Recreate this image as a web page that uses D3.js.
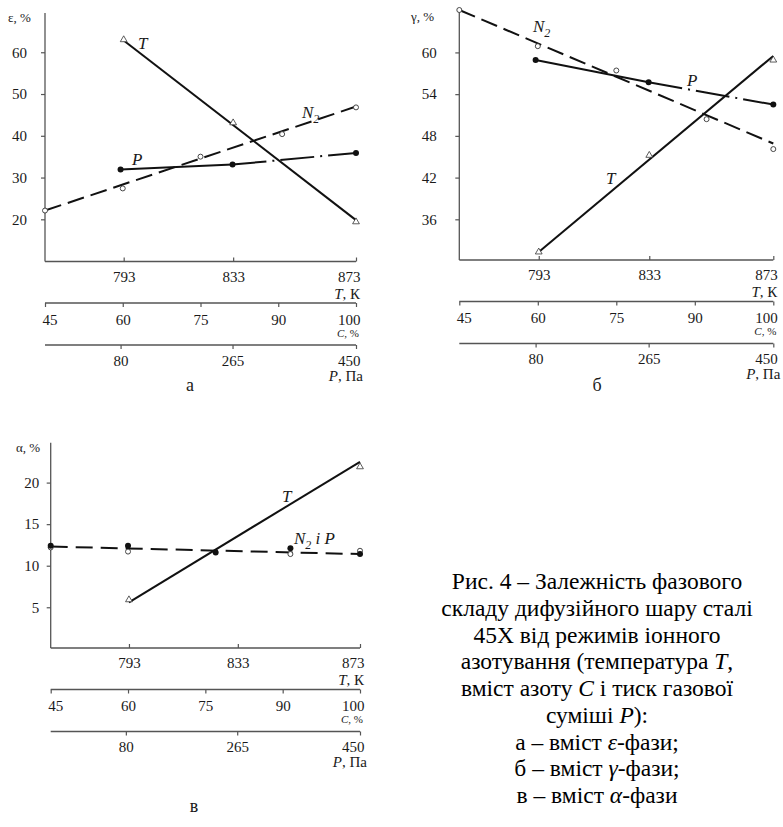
<!DOCTYPE html>
<html>
<head>
<meta charset="utf-8">
<script src="https://cdn.jsdelivr.net/npm/d3@7"></script>
<style>
  body { margin: 0; background: #fff; }
</style>
</head>
<body>
<svg id="chart" width="783" height="827"></svg>
<script>
// shared scales of the three x axes
const tempTicks = [793, 833, 873];
const nitrogenTicks = [45, 60, 75, 90, 100];
const pressureTicks = [80, 265, 450];

// а – ε-phase
const epsTicks = [20, 30, 40, 50, 60];
const epsTemp = [63, 43.1, 19.4];            // at tempTicks
const epsTempLine = [62.8, 19.8];            // straight line 793 -> 873
const epsN2C = [45, 60, 75, 90.5, 100];
const epsN2 = [22.1, 27.4, 35, 40.4, 46.8];
const epsN2Line = [22.1, 47];                // 45 -> 100
const epsP = [31.9, 33.1, 35.9];             // at pressureTicks

// б – γ-phase
const gammaTicks = [36, 42, 48, 54, 60];
const gammaTemp = [31.3, 45.2, 58.9];
const gammaTempLine = [31.3, 59.5];
const gammaN2C = [45, 60, 75, 91.5, 100];
const gammaN2 = [66.1, 60.9, 57.4, 50.4, 46.1];
const gammaN2Line = [66.1, 46.9];
const gammaP = [58.9, 55.7, 52.5];

// в – α-phase (N2 and P share one line)
const alphaTicks = [5, 10, 15, 20];
const alphaTempT = [793, 873];
const alphaTemp = [5.9, 21.9];
const alphaTempLine = [5.6, 22.5];
const alphaN2C = [45, 60, 91, 100];
const alphaN2 = [12.2, 11.7, 11.4, 11.8];
const alphaPC = [45, 60, 77, 91, 100];       // filled points, placed on the C scale
const alphaP = [12.4, 12.4, 11.6, 12.1, 11.4];
const alphaLine = [12.3, 11.4];

const captionLines = [
  [['Рис. 4 – Залежність фазового', false]],
  [['складу дифузійного шару сталі', false]],
  [['45Х від режимів іонного', false]],
  [['азотування (температура ', false], ['T', true], [',', false]],
  [['вміст азоту ', false], ['C', true], [' і тиск газової', false]],
  [['суміші ', false], ['P', true], ['):', false]],
  [['а – вміст ', false], ['ε', true], ['-фази;', false]],
  [['б – вміст ', false], ['γ', true], ['-фази;', false]],
  [['в – вміст ', false], ['α', true], ['-фази', false]]
];

const FACE = "'Liberation Serif'";
const AXIS = '#555';
const INK = '#1a1a1a';

const svg = d3.select('#chart');

function serif(sel) {
  return sel.style('font-family', FACE);
}

function drawPanel(p) {
  const g = svg.append('g');
  const L = p.left, W = p.width;
  const frac = fs => fs.map(f => L + f * W);

  const xT = d3.scaleLinear().domain(tempTicks).range(frac([0.253, 0.605, 1]));
  const xC = d3.scaleLinear().domain(nitrogenTicks).range(frac([0, 0.25, 0.5, 0.75, 1]));
  const xP = d3.scaleLinear().domain(pressureTicks).range(frac([0.243, 0.603, 1]));
  const y = d3.scaleLinear().domain(p.yDomain).range([p.axisY, p.top]);

  // y axis
  g.append('line')
    .attr('x1', L).attr('x2', L).attr('y1', p.top).attr('y2', p.axisY)
    .attr('stroke', AXIS).attr('stroke-width', 1.3);
  const ya = g.append('g')
    .attr('transform', 'translate(' + L + ',0)')
    .call(d3.axisLeft(y).tickValues(p.yTicks).tickSize(4).tickPadding(p.yPad))
    .attr('font-family', null);
  ya.select('.domain').remove();
  ya.selectAll('line').attr('stroke', AXIS).attr('stroke-width', 1.2);
  serif(ya.selectAll('text')).attr('font-size', 15).attr('fill', INK);

  serif(g.append('text'))
    .attr('x', p.yTitle[1]).attr('y', p.yTitle[2])
    .attr('font-size', 13).attr('fill', INK)
    .text(p.yTitle[0]);

  // three x axes stacked under the plot
  const rows = [
    { scale: xT, ticks: tempTicks, y: p.axisY, up: true, ty: 9.5 },
    { scale: xC, ticks: nitrogenTicks, y: p.axisY + 41.5, up: false, ty: 11 },
    { scale: xP, ticks: pressureTicks, y: p.axisY + 83.5, up: false, ty: 10 }
  ];
  rows.forEach(r => {
    g.append('line')
      .attr('x1', L).attr('x2', L + W).attr('y1', r.y).attr('y2', r.y)
      .attr('stroke', AXIS).attr('stroke-width', 1.3);
    const ax = g.append('g')
      .attr('transform', 'translate(0,' + r.y + ')')
      .call(d3.axisBottom(r.scale).tickValues(r.ticks)
        .tickSizeInner(r.up ? -4 : 4).tickSizeOuter(0))
      .attr('font-family', null);
    ax.select('.domain').remove();
    ax.selectAll('line').attr('stroke', AXIS).attr('stroke-width', 1.2);
    serif(ax.selectAll('text'))
      .attr('font-size', 15).attr('fill', INK)
      .attr('y', r.ty).attr('dy', '0.71em');
    ax.selectAll('.tick').filter(d => d === r.ticks[r.ticks.length - 1])
      .select('text').attr('text-anchor', 'end').attr('dx', 4);
    ax.selectAll('.tick').filter(d => d === 45)
      .select('text').attr('text-anchor', 'start').attr('dx', -3);
  });

  const right = L + W;
  const tTitle = serif(g.append('text')).attr('x', right + 4).attr('y', p.axisY + 37)
    .attr('text-anchor', 'end').attr('font-size', 15).attr('fill', INK);
  tTitle.append('tspan').attr('font-style', 'italic').text('T');
  tTitle.append('tspan').text(', К');

  const cTitle = serif(g.append('text')).attr('x', right + 3).attr('y', p.axisY + 75)
    .attr('text-anchor', 'end').attr('font-size', 11).attr('fill', INK);
  cTitle.append('tspan').attr('font-style', 'italic').text('C');
  cTitle.append('tspan').text(', %');

  const pTitle = serif(g.append('text')).attr('x', right + 7).attr('y', p.axisY + 119)
    .attr('text-anchor', 'end').attr('font-size', 15).attr('fill', INK);
  pTitle.append('tspan').attr('font-style', 'italic').text('P');
  pTitle.append('tspan').text(', Па');

  // series
  const line = d3.line().x(d => d[0]).y(d => d[1]);
  const tri = d3.symbol(d3.symbolTriangle, 20);
  const plot = g.append('g');
  const scaleOf = s => s.axis === 'T' ? xT : s.axis === 'C' ? xC : xP;

  p.series.forEach(s => {
    if (!s.line) return;
    const sx = scaleOf(s);
    s.line.forEach(seg => {
      plot.append('path')
        .attr('d', line(seg.pts.map(d => [sx(d[0]), y(d[1])])))
        .attr('fill', 'none').attr('stroke', '#111')
        .attr('stroke-width', 2)
        .attr('stroke-dasharray', seg.dash || null);
    });
  });

  p.series.forEach(s => {
    const sx = scaleOf(s);
    const pts = s.xs.map((v, i) => [sx(v), y(s.ys[i])]);
    if (s.marker === 'tri') {
      plot.selectAll(null).data(pts).join('path')
        .attr('d', tri)
        .attr('transform', d => 'translate(' + d[0] + ',' + d[1] + ')')
        .attr('fill', '#fff').attr('stroke', '#333').attr('stroke-width', 0.8);
    } else if (s.marker === 'open') {
      plot.selectAll(null).data(pts).join('circle')
        .attr('cx', d => d[0]).attr('cy', d => d[1]).attr('r', 2.5)
        .attr('fill', '#fff').attr('stroke', '#333').attr('stroke-width', 0.9);
    } else {
      plot.selectAll(null).data(pts).join('circle')
        .attr('cx', d => d[0]).attr('cy', d => d[1]).attr('r', 3)
        .attr('fill', '#111');
    }
  });

  // series names
  p.labels.forEach(l => {
    const t = serif(g.append('text')).attr('x', l.x).attr('y', l.y)
      .attr('font-size', 17).attr('font-style', 'italic').attr('fill', INK);
    t.append('tspan').text(l.text);
    if (l.sub) {
      t.append('tspan').attr('font-size', 12).attr('dy', 5).text(l.sub);
      if (l.after) t.append('tspan').attr('dy', -5).text(l.after);
    }
  });

  serif(g.append('text'))
    .attr('x', p.letter[1]).attr('y', p.letter[2])
    .attr('text-anchor', 'middle').attr('font-size', 18).attr('fill', INK)
    .text(p.letter[0]);
}

const zip = (a, b) => a.map((v, i) => [v, b[i]]);
const ends = arr => [arr[0], arr[arr.length - 1]];

drawPanel({
  left: 45, width: 311, top: 13, axisY: 261.5,
  yDomain: [9.9, 69.4], yTicks: epsTicks, yPad: 14,
  yTitle: ['ε, %', 8, 22],
  letter: ['а', 190, 391],
  series: [
    { axis: 'T', xs: tempTicks, ys: epsTemp, marker: 'tri',
      line: [{ pts: zip(ends(tempTicks), epsTempLine) }] },
    { axis: 'C', xs: epsN2C, ys: epsN2, marker: 'open',
      line: [{ pts: zip(ends(nitrogenTicks), epsN2Line), dash: '17,7' }] },
    { axis: 'P', xs: pressureTicks, ys: epsP, marker: 'dot',
      line: [
        { pts: zip(pressureTicks.slice(0, 2), epsP.slice(0, 2)) },
        { pts: zip(pressureTicks.slice(1), epsP.slice(1)), dash: '34,6,2,6' }
      ] }
  ],
  labels: [
    { text: 'T', x: 138, y: 49 },
    { text: 'N', sub: '2', x: 302, y: 118 },
    { text: 'P', x: 132, y: 165 }
  ]
});

drawPanel({
  left: 459.3, width: 314, top: 10, axisY: 260,
  yDomain: [30.15, 66.1], yTicks: gammaTicks, yPad: 18.6,
  yTitle: ['γ, %', 411, 21],
  letter: ['б', 597, 391],
  series: [
    { axis: 'T', xs: tempTicks, ys: gammaTemp, marker: 'tri',
      line: [{ pts: zip(ends(tempTicks), gammaTempLine) }] },
    { axis: 'C', xs: gammaN2C, ys: gammaN2, marker: 'open',
      line: [{ pts: zip(ends(nitrogenTicks), gammaN2Line), dash: '17,7' }] },
    { axis: 'P', xs: pressureTicks, ys: gammaP, marker: 'dot',
      line: [
        { pts: zip(pressureTicks.slice(0, 2), gammaP.slice(0, 2)) },
        { pts: zip(pressureTicks.slice(1), gammaP.slice(1)), dash: '34,6,2,6' }
      ] }
  ],
  labels: [
    { text: 'N', sub: '2', x: 533, y: 32 },
    { text: 'P', x: 687, y: 86 },
    { text: 'T', x: 606, y: 184 }
  ]
});

drawPanel({
  left: 50.7, width: 309.3, top: 442.7, axisY: 648,
  yDomain: [0.1, 24.8], yTicks: alphaTicks, yPad: 7.4,
  yTitle: ['α, %', 16, 452],
  letter: ['в', 194, 812],
  series: [
    { axis: 'T', xs: alphaTempT, ys: alphaTemp, marker: 'tri',
      line: [{ pts: zip(alphaTempT, alphaTempLine) }] },
    { axis: 'C', xs: alphaN2C, ys: alphaN2, marker: 'open',
      line: [{ pts: zip(ends(nitrogenTicks), alphaLine), dash: '17,8' }] },
    { axis: 'C', xs: alphaPC, ys: alphaP, marker: 'dot' }
  ],
  labels: [
    { text: 'T', x: 282, y: 502 },
    { text: 'N', sub: '2', after: ' і  P', x: 294, y: 544 }
  ]
});

// caption
captionLines.forEach((segs, i) => {
  const t = serif(svg.append('text'))
    .attr('font-size', 23.5)
    .attr('x', 597).attr('y', 589 + i * 26.75)
    .attr('text-anchor', 'middle');
  segs.forEach(s => {
    t.append('tspan').attr('font-style', s[1] ? 'italic' : null).text(s[0]);
  });
});
</script>
</body>
</html>
